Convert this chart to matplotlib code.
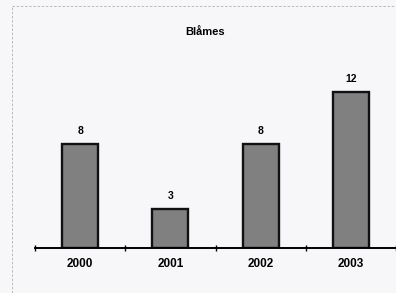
import matplotlib
matplotlib.use("Agg")
import matplotlib.pyplot as plt

years = ["2000", "2001", "2002", "2003"]
counts = [8, 3, 8, 12]
title = "Blåmes"

plt.rcParams["font.family"] = ["Liberation Sans", "DejaVu Sans"]

W, H = 396, 293
fig = plt.figure(figsize=(W / 100, H / 100), dpi=100)
fig.patch.set_facecolor("#f7f7fa")

# faint dashed page frame (scan)
fig.add_artist(plt.Line2D([12 / W, 12 / W], [0, 1 - 6 / H], color="#b0b0b8", lw=0.6, ls=(0, (3, 2))))
fig.add_artist(plt.Line2D([12 / W, 1], [1 - 6 / H, 1 - 6 / H], color="#b0b0b8", lw=0.6, ls=(0, (3, 2))))

ax = fig.add_axes([35 / W, 1 - 248 / H, (W - 35) / W, 182 / H])
ax.set_facecolor("none")
x = list(range(len(years)))
ax.bar(x, counts, width=0.4, color="#808080", edgecolor="#111111", linewidth=1.7, zorder=2)
for xi, v in zip(x, counts):
    ax.text(xi, v + 0.6, str(v), ha="center", va="bottom", fontsize=7.5, fontweight="bold")
ax.set_xlim(-0.5, len(years) - 0.5)
ax.set_ylim(0, 14)
ax.set_xticks([i - 0.5 for i in range(len(years) + 1)])
ax.set_xticklabels([])
ax.set_xticks(x, minor=True)
ax.set_xticklabels(years, minor=True, fontsize=8.5, fontweight="bold")
ax.tick_params(axis="x", which="major", direction="inout", length=4, width=1)
ax.tick_params(axis="x", which="minor", length=0, pad=7)
ax.set_yticks([])
for s in ["left", "right", "top"]:
    ax.spines[s].set_visible(False)
ax.spines["bottom"].set_linewidth(1.4)

fig.text(205 / W, 1 - 32 / H, title, ha="center", va="center", fontsize=8, fontweight="bold")

fig.savefig("out.png", dpi=100, facecolor=fig.get_facecolor())
